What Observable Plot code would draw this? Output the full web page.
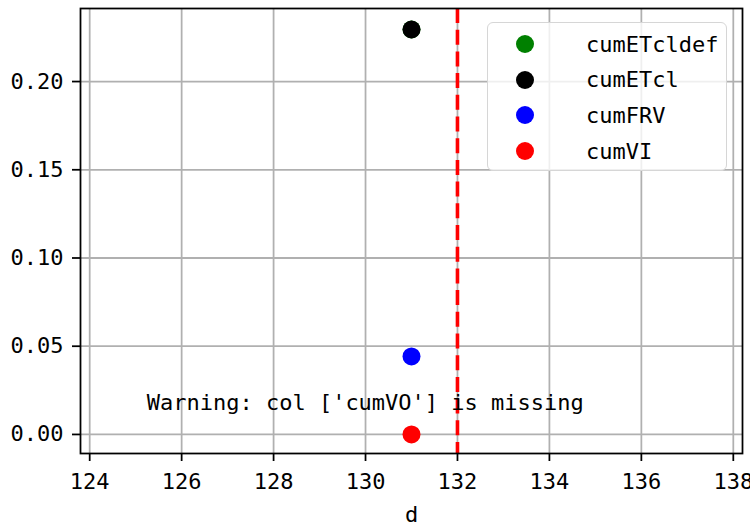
<!DOCTYPE html>
<html>
<head>
<meta charset="utf-8">
<script src="https://cdn.jsdelivr.net/npm/d3@7"></script>
<script src="https://cdn.jsdelivr.net/npm/@observablehq/plot@0.6"></script>
<style>
  html, body { margin: 0; padding: 0; background: #fff; }
  #wrap { position: relative; width: 750px; height: 524px; font-family: "DejaVu Sans Mono", monospace; }
  #legend { position: absolute; left: 487px; top: 22px; width: 238px; height: 147px;
    border: 1.5px solid #d6d6d6; border-radius: 6px; background: rgba(255,255,255,0.8); box-sizing: content-box; }
  .row { position: absolute; left: 0; height: 36px; display: flex; align-items: center; }
  .sw { position: absolute; left: 28px; width: 18px; height: 18px; border-radius: 50%; }
  .lb { position: absolute; left: 98px; font-size: 22px; white-space: nowrap; color: #000; }
</style>
</head>
<body>
<div id="wrap"></div>
<script>
// ---- data ----
const series = ["cumETcldef", "cumETcl", "cumFRV", "cumVI"];
const colors = ["#008000", "#000000", "#0000ff", "#ff0000"];
const dayValues = [131, 131, 131, 131];
const seriesValues = [0.2295, 0.2295, 0.0442, 0.0];
const vlineX = [132];
const xTicks = [124, 126, 128, 130, 132, 134, 136, 138];
const yTicks = [0.00, 0.05, 0.10, 0.15, 0.20];
const xDomain = [123.8, 138.2];
const yDomain = [-0.0108, 0.2414];
const warningText = ["Warning: col ['cumVO'] is missing"];
const warningPos = { x: [125.24], y: [0.0181] };

const pts = series.map((s, i) => ({ name: s, d: dayValues[i], v: seriesValues[i], color: colors[i] }));

const chart = Plot.plot({
  width: 750,
  height: 524,
  marginLeft: 80,
  marginRight: 8,
  marginTop: 8,
  marginBottom: 71,
  style: { fontFamily: "DejaVu Sans Mono, monospace", fontSize: "22px", background: "#fff", overflow: "visible" },
  x: { domain: xDomain },
  y: { domain: yDomain },
  marks: [
    Plot.ruleX(xTicks, { stroke: "#b0b0b0", strokeWidth: 1.76 }),
    Plot.ruleY(yTicks, { stroke: "#b0b0b0", strokeWidth: 1.76 }),
    Plot.dot(pts, { x: "d", y: "v", r: 9, fill: "color", stroke: null }),
    Plot.ruleX(vlineX, { stroke: "#ff0000", strokeWidth: 3.6, strokeDasharray: "15,6.7" }),
    Plot.text(warningText, { x: warningPos.x, y: warningPos.y, text: d => d, textAnchor: "start", lineAnchor: "middle", fontSize: 22, fill: "#000" }),
    Plot.axisX({ ticks: xTicks, tickSize: 8, tickPadding: 12, strokeWidth: 1.76, label: "d", labelAnchor: "center", labelArrow: "none", labelOffset: 68, fontSize: 22 }),
    Plot.axisY({ ticks: yTicks, tickFormat: d3.format(".2f"), tickSize: 8, tickPadding: 9, strokeWidth: 1.76, label: null, fontSize: 22 }),
    Plot.frame({ stroke: "#000", strokeWidth: 1.76 })
  ]
});

const wrap = document.getElementById("wrap");
wrap.appendChild(chart);

const legend = document.createElement("div");
legend.id = "legend";
series.forEach((s, i) => {
  const row = document.createElement("div");
  row.className = "row";
  row.style.top = (3 + i * 35.7) + "px";
  row.style.width = "100%";
  const sw = document.createElement("div");
  sw.className = "sw";
  sw.style.background = colors[i];
  const lb = document.createElement("div");
  lb.className = "lb";
  lb.textContent = s;
  row.appendChild(sw);
  row.appendChild(lb);
  legend.appendChild(row);
});
wrap.appendChild(legend);
</script>
</body>
</html>
